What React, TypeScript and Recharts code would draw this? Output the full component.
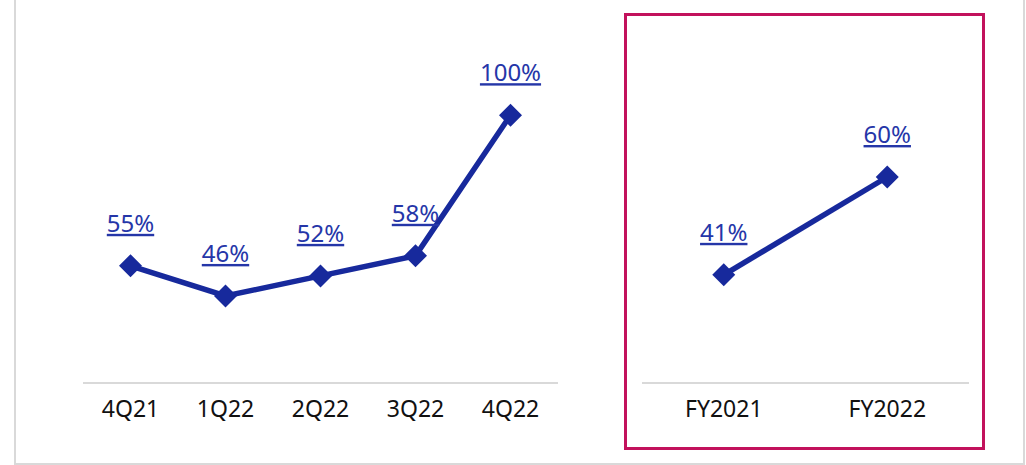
import { LineChart, Line, XAxis, YAxis, LabelList } from "recharts";

// quarterly series (left panel)
const quarters = ["4Q21", "1Q22", "2Q22", "3Q22", "4Q22"];
const quarterValues = [55, 46, 52, 58, 100];

// full-year series (right panel, boxed)
const years = ["FY2021", "FY2022"];
const yearValues = [41, 60];

const LINE_COLOR = "#17299c";
const LABEL_COLOR = "#2536a8";
const AXIS_COLOR = "#d9d9d9";
const FONT = "'Noto Sans', 'Open Sans', sans-serif";

const quarterData = quarters.map((q, i) => ({ name: q, value: quarterValues[i] }));
const yearData = years.map((y, i) => ({ name: y, value: yearValues[i] }));

function Diamond(props: any) {
	const { cx, cy, index } = props;
	if (cx == null || cy == null) return null;
	const r = 11.5;
	return (
		<polygon
			key={`d-${index}`}
			points={`${cx},${cy - r} ${cx + r},${cy} ${cx},${cy + r} ${cx - r},${cy}`}
			fill={LINE_COLOR}
		/>
	);
}

function PctLabel(props: any) {
	const { x, y, value } = props;
	return (
		<text
			x={x}
			y={y - 34}
			textAnchor="middle"
			fill={LABEL_COLOR}
			fontSize={24}
			fontFamily={FONT}
			textDecoration="underline"
			style={{ textDecoration: "underline" }}
		>
			{`${value}%`}
		</text>
	);
}

const tickStyle = { fill: "#111", fontSize: 23, fontFamily: FONT };

export default function App() {
	return (
		<div
			style={{
				position: "fixed",
				left: 0,
				top: 0,
				width: 1026,
				height: 465,
				background: "#fff",
				overflow: "hidden",
			}}
		>
			{/* outer light frame */}
			<div
				style={{
					position: "absolute",
					left: 14,
					top: -4,
					width: 1011,
					height: 469,
					boxSizing: "border-box",
					border: `2px solid ${AXIS_COLOR}`,
				}}
			/>
			{/* highlight box around full-year panel */}
			<div
				style={{
					position: "absolute",
					left: 624,
					top: 13,
					width: 361,
					height: 437,
					boxSizing: "border-box",
					border: "3px solid #c2125c",
				}}
			/>

			<div style={{ position: "absolute", left: 0, top: 0 }}>
				<LineChart
					width={600}
					height={465}
					data={quarterData}
					margin={{ top: 65, right: 42, bottom: 52, left: 83 }}
				>
					<XAxis
						dataKey="name"
						axisLine={{ stroke: AXIS_COLOR, strokeWidth: 2 }}
						tickLine={false}
						tickMargin={12}
						tick={tickStyle}
						interval={0}
						padding={{ left: 47.5, right: 47.5 }}
					/>
					<YAxis hide domain={[20, 115]} />
					<Line
						dataKey="value"
						stroke={LINE_COLOR}
						strokeWidth={5.5}
						dot={<Diamond />}
						activeDot={false}
						isAnimationActive={false}
					>
						<LabelList dataKey="value" content={<PctLabel />} />
					</Line>
				</LineChart>
			</div>

			<div style={{ position: "absolute", left: 600, top: 0 }}>
				<LineChart
					width={426}
					height={465}
					data={yearData}
					margin={{ top: 74, right: 57, bottom: 52, left: 42 }}
				>
					<XAxis
						dataKey="name"
						axisLine={{ stroke: AXIS_COLOR, strokeWidth: 2 }}
						tickLine={false}
						tickMargin={12}
						tick={tickStyle}
						interval={0}
						padding={{ left: 81.75, right: 81.75 }}
					/>
					<YAxis hide domain={[20, 80]} />
					<Line
						dataKey="value"
						stroke={LINE_COLOR}
						strokeWidth={5.5}
						dot={<Diamond />}
						activeDot={false}
						isAnimationActive={false}
					>
						<LabelList dataKey="value" content={<PctLabel />} />
					</Line>
				</LineChart>
			</div>
		</div>
	);
}
